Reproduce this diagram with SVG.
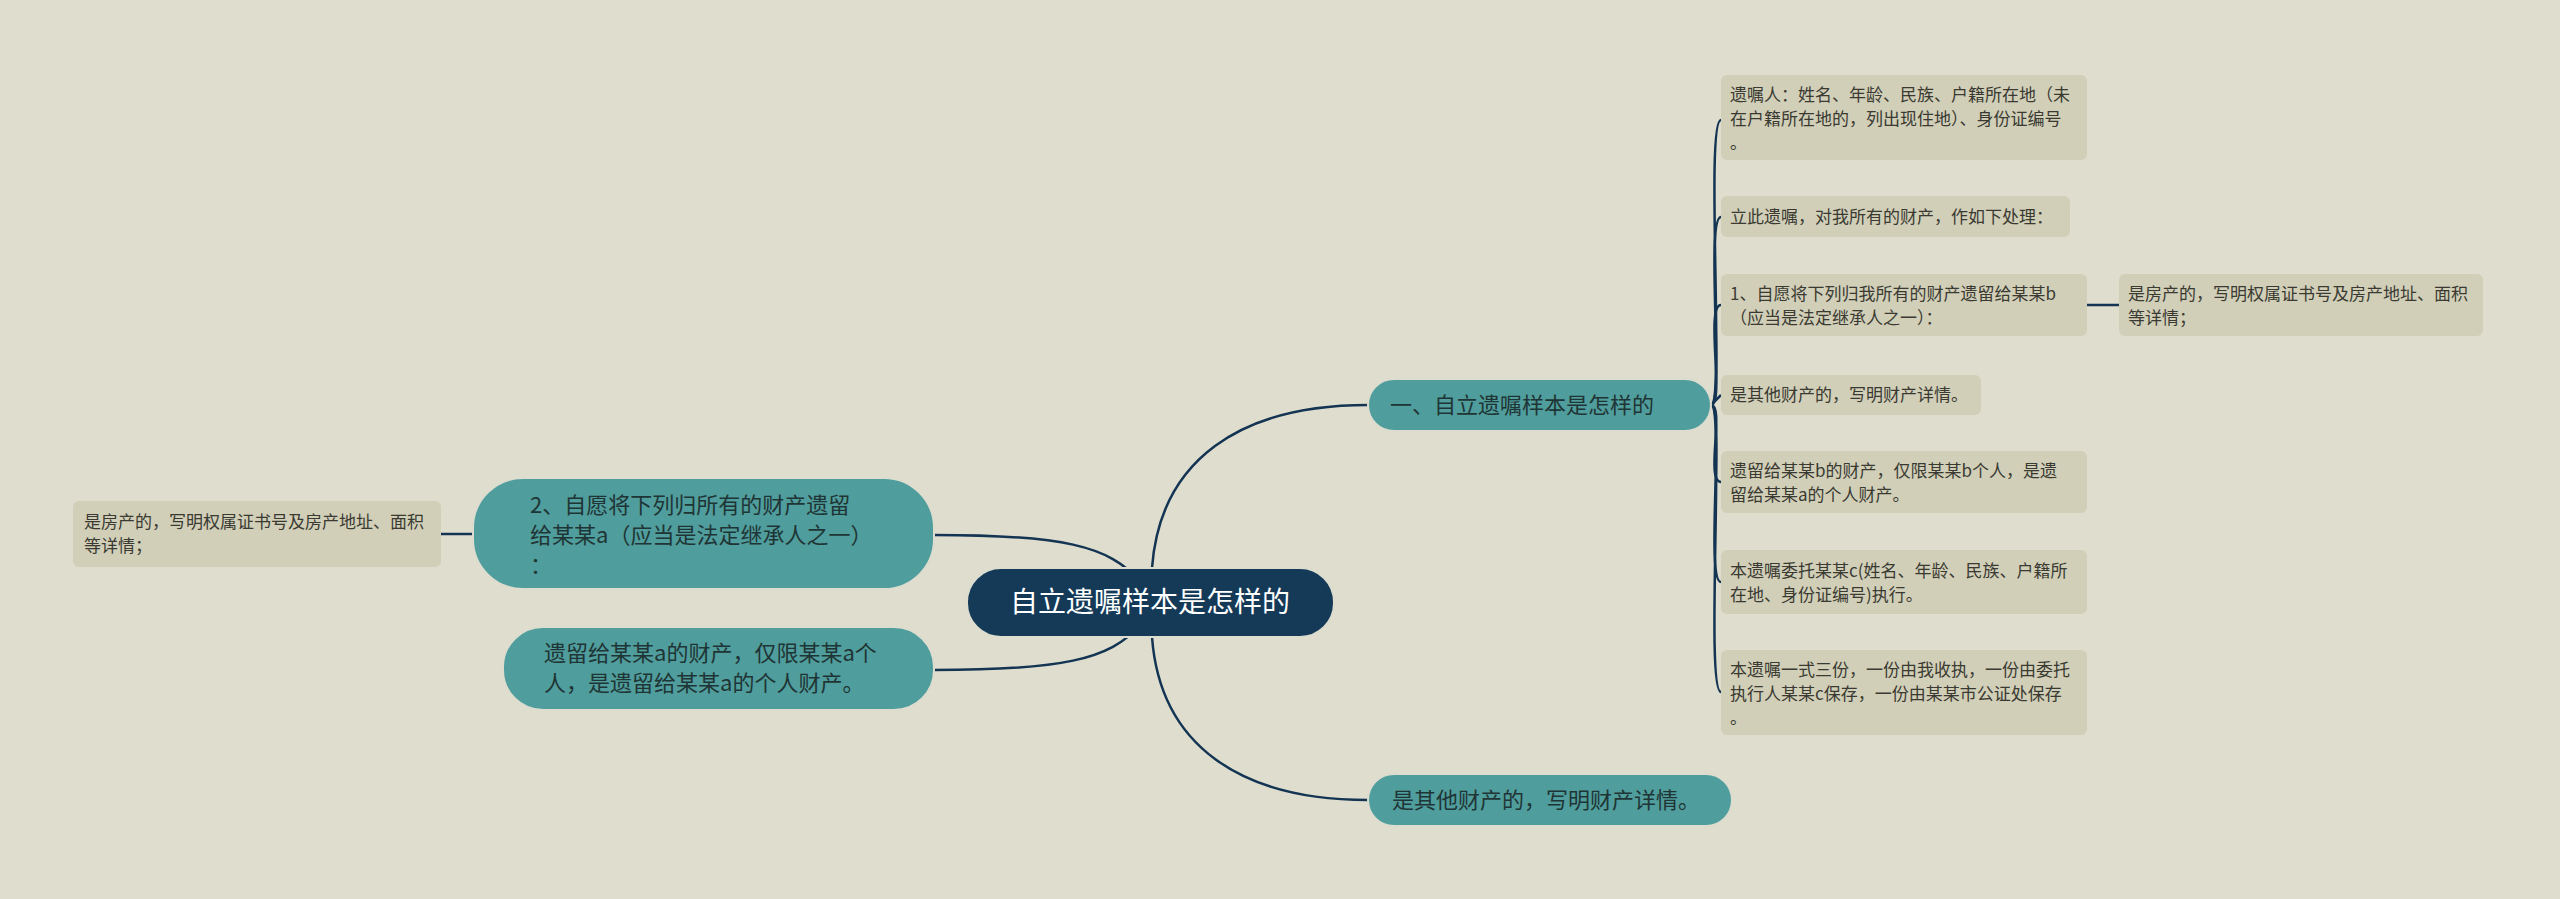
<svg xmlns="http://www.w3.org/2000/svg" width="2560" height="899" viewBox="0 0 2560 899">
<style>
text{font-family:"Noto Sans CJK SC","Liberation Sans",sans-serif}
.leaf rect{fill:#d1cfb8}
.leaf text{font-size:17px;fill:#3a3a32}
.mid rect{fill:#4f9d9c;stroke:#dcdccf;stroke-width:2}
.mid text{font-size:22px;fill:#1f3535}
.root rect{fill:#143a58;stroke:#dcdccf;stroke-width:2}
.root text{font-size:28px;fill:#fff}
.c path{fill:none;stroke:#133452;stroke-width:2.5}
</style>
<rect width="2560" height="899" fill="#dfddce"/>
<g class="c">
<path d="M1152 568 C1160 460 1240 405 1368 405"/>
<path d="M1152 637 C1160 745 1240 800 1368 800"/>
<path d="M1140 582 C1110 545 1060 535 934 535"/>
<path d="M1140 625 C1110 660 1060 670 934 670"/>
<path d="M441 534 L473 534"/>
<path d="M2087 305 L2119 305"/>
<path d="M1711 405 C1725 405 1705 120 1721 120"/>
<path d="M1711 405 C1725 405 1705 217 1721 217"/>
<path d="M1711 405 C1725 405 1705 305 1721 305"/>
<path d="M1711 405 L1721 395"/>
<path d="M1711 405 C1725 405 1705 482 1721 482"/>
<path d="M1711 405 C1725 405 1705 582 1721 582"/>
<path d="M1711 405 C1725 405 1705 692 1721 692"/>
</g>
<g id="root" class="root"><rect x="967" y="568" width="367" height="69" rx="34"/><text x="1150" y="612" text-anchor="middle">自立遗嘱样本是怎样的</text></g>
<g id="n1" class="mid"><rect x="1368" y="379" width="343" height="52" rx="26"/><text x="1390" y="413">一、自立遗嘱样本是怎样的</text></g>
<g id="n2" class="mid"><rect x="1368" y="774" width="364" height="52" rx="26"/><text x="1392" y="808">是其他财产的，写明财产详情。</text></g>
<g id="n3" class="mid"><rect x="473" y="478" width="461" height="111" rx="50"/><text x="530" y="513">2、自愿将下列归所有的财产遗留</text><text x="530" y="543">给某某a（应当是法定继承人之一）</text><text x="530" y="573">：</text></g>
<g id="n4" class="mid"><rect x="503" y="627" width="431" height="83" rx="40"/><text x="544" y="661">遗留给某某a的财产，仅限某某a个</text><text x="544" y="691">人，是遗留给某某a的个人财产。</text></g>
<g id="l0" class="leaf"><rect x="73" y="501" width="368" height="66" rx="6"/><text x="84" y="528">是房产的，写明权属证书号及房产地址、面积</text><text x="84" y="552">等详情；</text></g>
<g id="l1" class="leaf"><rect x="1721" y="75" width="366" height="85" rx="6"/><text x="1730" y="101">遗嘱人：姓名、年龄、民族、户籍所在地（未</text><text x="1730" y="125">在户籍所在地的，列出现住地）、身份证编号</text><text x="1730" y="149">。</text></g>
<g id="l2" class="leaf"><rect x="1721" y="196" width="349" height="41" rx="6"/><text x="1730" y="223">立此遗嘱，对我所有的财产，作如下处理：</text></g>
<g id="l3" class="leaf"><rect x="1721" y="274" width="366" height="62" rx="6"/><text x="1730" y="300">1、自愿将下列归我所有的财产遗留给某某b</text><text x="1730" y="324">（应当是法定继承人之一）：</text></g>
<g id="l3a" class="leaf"><rect x="2119" y="274" width="364" height="62" rx="6"/><text x="2128" y="300">是房产的，写明权属证书号及房产地址、面积</text><text x="2128" y="324">等详情；</text></g>
<g id="l4" class="leaf"><rect x="1721" y="375" width="260" height="40" rx="6"/><text x="1730" y="401">是其他财产的，写明财产详情。</text></g>
<g id="l5" class="leaf"><rect x="1721" y="451" width="366" height="62" rx="6"/><text x="1730" y="477">遗留给某某b的财产，仅限某某b个人，是遗</text><text x="1730" y="501">留给某某a的个人财产。</text></g>
<g id="l6" class="leaf"><rect x="1721" y="550" width="366" height="64" rx="6"/><text x="1730" y="577">本遗嘱委托某某c(姓名、年龄、民族、户籍所</text><text x="1730" y="601">在地、身份证编号)执行。</text></g>
<g id="l7" class="leaf"><rect x="1721" y="650" width="366" height="85" rx="6"/><text x="1730" y="676">本遗嘱一式三份，一份由我收执，一份由委托</text><text x="1730" y="700">执行人某某c保存，一份由某某市公证处保存</text><text x="1730" y="724">。</text></g>
</svg>
